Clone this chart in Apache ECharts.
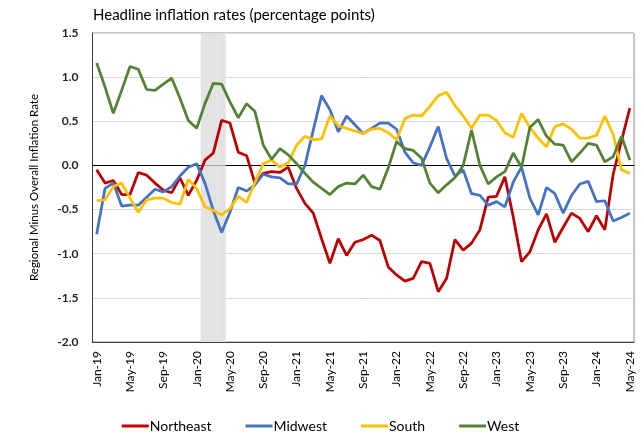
<!DOCTYPE html>
<html>
<head>
<meta charset="utf-8">
<script src="https://cdn.jsdelivr.net/npm/echarts@6/dist/echarts.min.js"></script>
<style>
  html, body { margin: 0; padding: 0; background: #fff; }
  #chart { width: 641px; height: 432px; }
</style>
</head>
<body>
<div id="chart"></div>
<script>
// month labels Jan-19 .. May-24
const monthNames = ['Jan', 'Feb', 'Mar', 'Apr', 'May', 'Jun', 'Jul', 'Aug', 'Sep', 'Oct', 'Nov', 'Dec'];
const categories = [];
for (let y = 19; y <= 24; y++) {
  for (let m = 0; m < 12; m++) {
    if (y === 24 && m > 4) break;
    categories.push(monthNames[m] + '-' + y);
  }
}

const northeast = [
  -0.05, -0.20, -0.17, -0.33, -0.33, -0.08, -0.11, -0.20, -0.28, -0.31, -0.14, -0.34,
  -0.17, 0.06, 0.14, 0.51, 0.48, 0.15, 0.11, -0.20, -0.09, -0.07, -0.08, -0.02,
  -0.26, -0.43, -0.54, -0.83, -1.11, -0.83, -1.02, -0.87, -0.84, -0.79, -0.85, -1.15,
  -1.24, -1.31, -1.28, -1.09, -1.11, -1.43, -1.28, -0.84, -0.96, -0.88, -0.73, -0.36,
  -0.35, -0.13, -0.58, -1.09, -0.98, -0.73, -0.55, -0.87, -0.70, -0.54, -0.60, -0.75,
  -0.57, -0.73, -0.10, 0.28, 0.65
];
const midwest = [
  -0.78, -0.26, -0.20, -0.46, -0.45, -0.45, -0.36, -0.27, -0.30, -0.24, -0.12, -0.02,
  0.02, -0.20, -0.51, -0.76, -0.53, -0.25, -0.29, -0.22, -0.10, -0.13, -0.14, -0.21,
  -0.21, 0.00, 0.40, 0.79, 0.63, 0.38, 0.56, 0.46, 0.36, 0.42, 0.48, 0.48,
  0.41, 0.15, 0.03, 0.00, 0.21, 0.44, 0.08, -0.12, -0.05, -0.32, -0.34, -0.45,
  -0.41, -0.47, -0.19, -0.02, -0.37, -0.56, -0.25, -0.32, -0.54, -0.34, -0.21, -0.18,
  -0.41, -0.40, -0.63, -0.59, -0.54
];
const south = [
  -0.40, -0.39, -0.24, -0.20, -0.37, -0.53, -0.39, -0.37, -0.37, -0.42, -0.44, -0.16,
  -0.26, -0.47, -0.51, -0.56, -0.49, -0.35, -0.42, -0.19, 0.02, 0.06, -0.02, 0.03,
  0.23, 0.33, 0.29, 0.30, 0.56, 0.45, 0.42, 0.39, 0.36, 0.41, 0.42, 0.37,
  0.29, 0.53, 0.57, 0.56, 0.67, 0.79, 0.83, 0.68, 0.56, 0.42, 0.57, 0.57,
  0.51, 0.37, 0.32, 0.59, 0.43, 0.31, 0.21, 0.44, 0.47, 0.41, 0.31, 0.31,
  0.34, 0.56, 0.35, -0.05, -0.09
];
const west = [
  1.16, 0.89, 0.59, 0.85, 1.12, 1.09, 0.86, 0.85, 0.92, 0.99, 0.76, 0.51,
  0.42, 0.70, 0.93, 0.92, 0.72, 0.54, 0.70, 0.61, 0.23, 0.07, 0.19, 0.12,
  0.02, -0.09, -0.19, -0.26, -0.33, -0.24, -0.20, -0.21, -0.11, -0.24, -0.27, -0.03,
  0.27, 0.19, 0.17, 0.08, -0.20, -0.31, -0.22, -0.14, 0.00, 0.40, 0.00, -0.21,
  -0.13, -0.07, 0.14, -0.02, 0.43, 0.52, 0.33, 0.24, 0.23, 0.04, 0.14, 0.25,
  0.23, 0.04, 0.10, 0.33, 0.06
];

// shaded months (recession band)
const shadeMonths = ['Feb-20', 'Mar-20', 'Apr-20'];
const yMin = -2.0;
const yMax = 1.5;

const shadeUp = categories.map(c => (shadeMonths.includes(c) ? yMax : null));
const shadeDown = categories.map(c => (shadeMonths.includes(c) ? yMin : null));

const font = 'Lato';
const chart = echarts.init(document.getElementById('chart'), null, { renderer: 'canvas' });

const lineSeries = (name, data, color) => ({
  name,
  type: 'line',
  data,
  xAxisIndex: 0,
  symbol: 'none',
  lineStyle: { width: 2.75, color },
  itemStyle: { color },
  z: 3
});

const shadeBar = (data) => ({
  type: 'bar',
  data,
  xAxisIndex: 0,
  stack: 'shade',
  barWidth: '100%',
  silent: true,
  itemStyle: { color: '#e3e3e3' },
  z: 1
});

chart.setOption({
  animation: false,
  textStyle: { fontFamily: font },
  title: {
    text: 'Headline inflation rates (percentage points)',
    left: 93,
    top: 8,
    padding: 0,
    textStyle: { fontFamily: font, fontSize: 15, fontWeight: 'normal', color: '#000' }
  },
  legend: {
    data: ['Northeast', 'Midwest', 'South', 'West'],
    left: 'center',
    top: 414,
    icon: 'rect',
    itemWidth: 27,
    itemHeight: 3,
    itemGap: 34,
    textStyle: { fontFamily: font, fontSize: 14, color: '#000', padding: [0, 0, 0, -4] }
  },
  grid: {
    left: 92.5,
    right: 7,
    top: 33,
    bottom: 90,
    show: true,
    borderColor: '#8c8c8c',
    borderWidth: 1
  },
  xAxis: [
    {
      type: 'category',
      data: categories,
      boundaryGap: true,
      axisLine: { onZero: true, lineStyle: { color: '#000', width: 1 } },
      axisTick: { interval: 3, length: 4, lineStyle: { color: '#000' } },
      axisLabel: { show: false },
      splitLine: { show: false }
    },
    {
      type: 'category',
      data: categories,
      position: 'bottom',
      boundaryGap: true,
      axisLine: { onZero: false, lineStyle: { color: '#404040', width: 1 } },
      axisTick: { show: false },
      axisLabel: {
        interval: 3,
        rotate: 90,
        margin: 9,
        fontFamily: font,
        fontSize: 12,
        color: '#000'
      }
    }
  ],
  yAxis: {
    type: 'value',
    min: yMin,
    max: yMax,
    interval: 0.5,
    name: 'Regional Minus Overall Inflation Rate',
    nameLocation: 'middle',
    nameGap: 52,
    nameTextStyle: { fontFamily: font, fontSize: 11.5, color: '#000' },
    axisLine: { show: true, lineStyle: { color: '#404040' } },
    axisTick: { show: false },
    axisLabel: {
      margin: 14,
      fontFamily: font,
      fontSize: 12,
      fontWeight: 'bold',
      color: '#262626',
      formatter: (v) => v.toFixed(1)
    },
    splitLine: { lineStyle: { color: '#d9d9d9', width: 1 } }
  },
  series: [
    shadeBar(shadeUp),
    shadeBar(shadeDown),
    lineSeries('Northeast', northeast, '#c00000'),
    lineSeries('Midwest', midwest, '#4472c4'),
    lineSeries('South', south, '#ffc000'),
    lineSeries('West', west, '#548235')
  ]
});
</script>
</body>
</html>
